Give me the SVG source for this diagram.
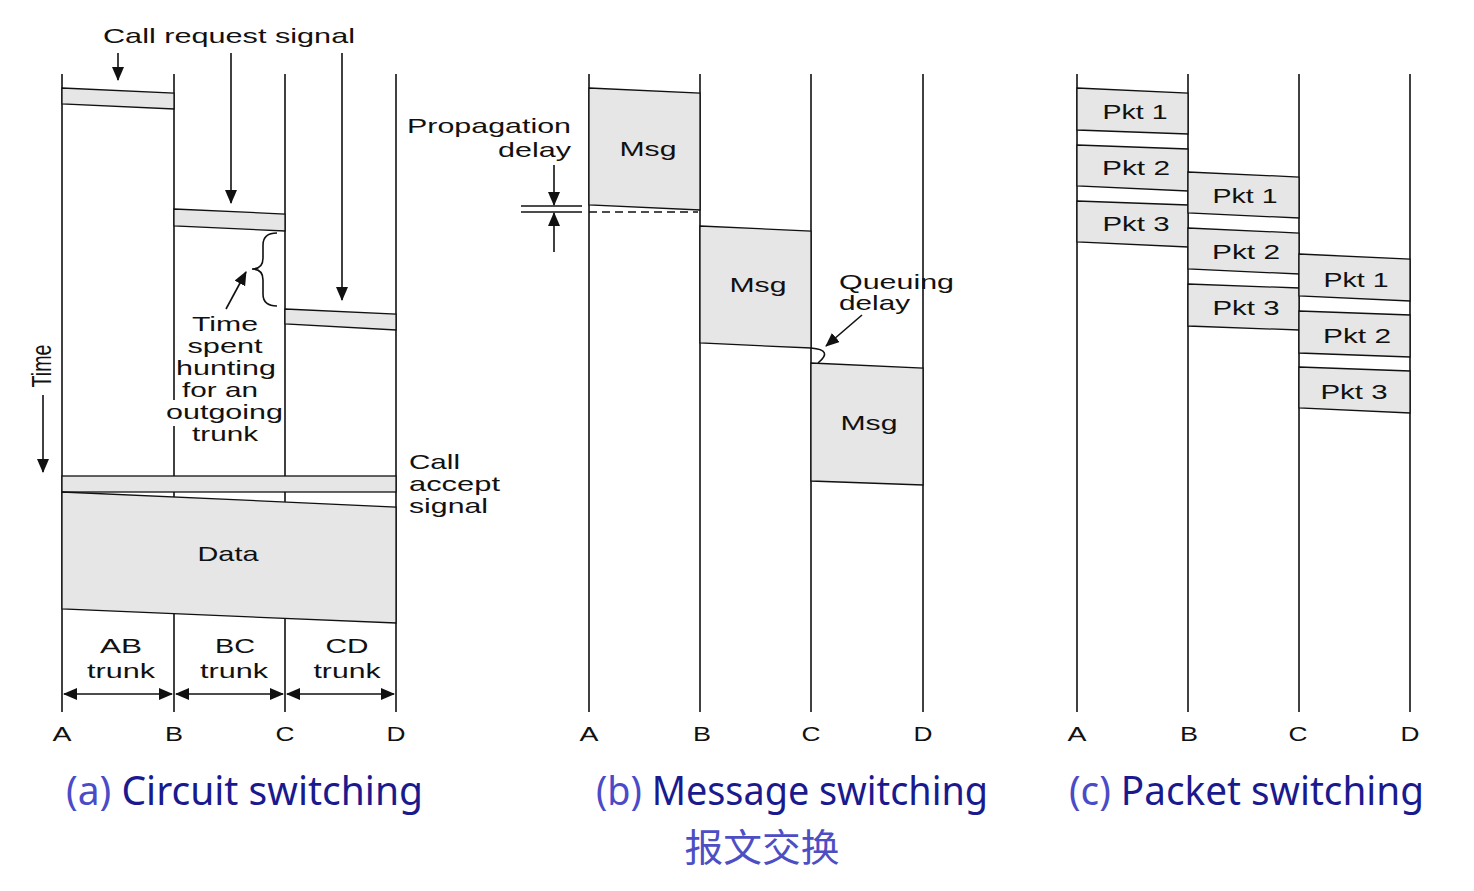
<svg xmlns="http://www.w3.org/2000/svg" width="1474" height="891" viewBox="0 0 1474 891">
<defs>
<marker id="ah" markerUnits="userSpaceOnUse" markerWidth="14" markerHeight="12" refX="13" refY="6" orient="auto-start-reverse">
<path d="M0,0 L14,6 L0,12 z" fill="#111"/>
</marker>
<style>
.ln{stroke:#111;stroke-width:1.6;fill:none}
.bx{fill:#e6e6e6;stroke:#111;stroke-width:1.3}
.t{font-family:"Liberation Sans",Arial,sans-serif;font-size:21px;fill:#111;lengthAdjust:spacingAndGlyphs}
.m{text-anchor:middle}
.ar{stroke:#111;stroke-width:1.6;fill:none;marker-end:url(#ah)}
.ti{font-family:"Noto Sans","Liberation Sans",sans-serif;font-size:40px;fill:#1a1a8e}
.pa{fill:#4b4bc8}
</style>
</defs>
<rect width="1474" height="891" fill="#fff"/>

<!-- Panel (a) circuit switching -->
<g id="panel-a">
<g id="a-lines">
<line class="ln" x1="62" y1="74" x2="62" y2="712"/>
<line class="ln" x1="174" y1="74" x2="174" y2="400"/>
<line class="ln" x1="174" y1="426" x2="174" y2="712"/>
<line class="ln" x1="285" y1="74" x2="285" y2="712"/>
<line class="ln" x1="396" y1="74" x2="396" y2="712"/>
</g>
<g id="a-req-ab"><polygon class="bx" points="62,88 174,93 174,109 62,104"/></g>
<g id="a-req-bc"><polygon class="bx" points="174,209 285,214 285,231 174,226"/></g>
<g id="a-req-cd"><polygon class="bx" points="285,309 396,314 396,330 285,324"/></g>
<g id="a-accept"><rect class="bx" x="62" y="476" width="334" height="16"/></g>
<g id="a-data"><polygon class="bx" points="62,492 396,507 396,623 62,609"/>
<text class="t m" x="228" y="561" textLength="61" lengthAdjust="spacingAndGlyphs">Data</text></g>
<g id="a-labels">
<text class="t m" x="229" y="43" textLength="252" lengthAdjust="spacingAndGlyphs">Call request signal</text>
<text class="t m" x="225" y="331" textLength="66" lengthAdjust="spacingAndGlyphs">Time</text>
<text class="t m" x="225" y="353" textLength="75" lengthAdjust="spacingAndGlyphs">spent</text>
<text class="t m" x="226" y="375" textLength="100" lengthAdjust="spacingAndGlyphs">hunting</text>
<text class="t m" x="220" y="397" textLength="76" lengthAdjust="spacingAndGlyphs">for an</text>
<text class="t m" x="224.5" y="419" textLength="117" lengthAdjust="spacingAndGlyphs">outgoing</text>
<text class="t m" x="225" y="441" textLength="66" lengthAdjust="spacingAndGlyphs">trunk</text>
<text class="t" x="409" y="469" textLength="51" lengthAdjust="spacingAndGlyphs">Call</text>
<text class="t" x="409" y="491" textLength="91" lengthAdjust="spacingAndGlyphs">accept</text>
<text class="t" x="409" y="513" textLength="79" lengthAdjust="spacingAndGlyphs">signal</text>
<text class="t m" x="121" y="653" textLength="42" lengthAdjust="spacingAndGlyphs">AB</text>
<text class="t m" x="121" y="678" textLength="68" lengthAdjust="spacingAndGlyphs">trunk</text>
<text class="t m" x="235" y="653" textLength="40" lengthAdjust="spacingAndGlyphs">BC</text>
<text class="t m" x="234" y="678" textLength="68" lengthAdjust="spacingAndGlyphs">trunk</text>
<text class="t m" x="347" y="653" textLength="43" lengthAdjust="spacingAndGlyphs">CD</text>
<text class="t m" x="347" y="678" textLength="67" lengthAdjust="spacingAndGlyphs">trunk</text>
<text class="t m" x="62" y="741" textLength="19" lengthAdjust="spacingAndGlyphs">A</text>
<text class="t m" x="174" y="741" textLength="18" lengthAdjust="spacingAndGlyphs">B</text>
<text class="t m" x="285" y="741" textLength="19" lengthAdjust="spacingAndGlyphs">C</text>
<text class="t m" x="396" y="741" textLength="19" lengthAdjust="spacingAndGlyphs">D</text>
<text class="t m" transform="translate(51,366) scale(1.3,1) rotate(-90)" x="0" y="0" textLength="43" lengthAdjust="spacingAndGlyphs">Time</text>
</g>
<path class="ln" d="M277,233 Q263,233 263,245 L263,258 Q263,269 252,269 Q263,269 263,280 L263,294 Q263,306 277,306"/>
</g>

<!-- Panel (b) message switching -->
<g id="panel-b">
<g id="b-lines">
<line class="ln" x1="589" y1="74" x2="589" y2="712"/>
<line class="ln" x1="700" y1="74" x2="700" y2="712"/>
<line class="ln" x1="811" y1="74" x2="811" y2="712"/>
<line class="ln" x1="923" y1="74" x2="923" y2="712"/>
</g>
<g id="b-msg1"><polygon class="bx" points="589,88 700,93 700,210 589,205"/>
<text class="t m" x="648" y="156" textLength="57" lengthAdjust="spacingAndGlyphs">Msg</text></g>
<g id="b-msg2"><polygon class="bx" points="700,226 811,231 811,348 700,343"/>
<text class="t m" x="758" y="292" textLength="57" lengthAdjust="spacingAndGlyphs">Msg</text></g>
<g id="b-msg3"><polygon class="bx" points="811,363 923,368 923,485 811,481"/>
<text class="t m" x="869" y="430" textLength="57" lengthAdjust="spacingAndGlyphs">Msg</text></g>
<line class="ln" x1="589" y1="212" x2="698" y2="212" stroke-dasharray="8,5" stroke-width="1.3"/>
<line class="ln" x1="521" y1="206" x2="582" y2="206" stroke-width="1.3"/>
<line class="ln" x1="521" y1="212" x2="582" y2="212" stroke-width="1.3"/>
<g id="b-labels">
<text class="t" x="571" y="133" text-anchor="end" textLength="164" lengthAdjust="spacingAndGlyphs">Propagation</text>
<text class="t" x="571" y="157" text-anchor="end" textLength="73" lengthAdjust="spacingAndGlyphs">delay</text>
<text class="t" x="839" y="289" textLength="115" lengthAdjust="spacingAndGlyphs">Queuing</text>
<text class="t" x="839" y="310" textLength="71" lengthAdjust="spacingAndGlyphs">delay</text>
<text class="t m" x="589" y="741" textLength="19" lengthAdjust="spacingAndGlyphs">A</text>
<text class="t m" x="702" y="741" textLength="18" lengthAdjust="spacingAndGlyphs">B</text>
<text class="t m" x="811" y="741" textLength="19" lengthAdjust="spacingAndGlyphs">C</text>
<text class="t m" x="923" y="741" textLength="19" lengthAdjust="spacingAndGlyphs">D</text>
</g>
<path class="ln" stroke-width="1.3" d="M811,348 Q834,350 818,363"/>
</g>

<!-- Panel (c) packet switching -->
<g id="panel-c">
<g id="c-lines">
<line class="ln" x1="1077" y1="74" x2="1077" y2="712"/>
<line class="ln" x1="1188" y1="74" x2="1188" y2="712"/>
<line class="ln" x1="1299" y1="74" x2="1299" y2="712"/>
<line class="ln" x1="1410" y1="74" x2="1410" y2="712"/>
</g>
<g id="c-ab-p1"><polygon class="bx" points="1077,88 1188,93 1188,134 1077,130"/><text class="t m" x="1135" y="119" textLength="65" lengthAdjust="spacingAndGlyphs">Pkt 1</text></g>
<g id="c-ab-p2"><polygon class="bx" points="1077,145 1188,149 1188,191 1077,186"/><text class="t m" x="1136" y="175" textLength="68" lengthAdjust="spacingAndGlyphs">Pkt 2</text></g>
<g id="c-ab-p3"><polygon class="bx" points="1077,201 1188,205 1188,247 1077,242"/><text class="t m" x="1136" y="231" textLength="67" lengthAdjust="spacingAndGlyphs">Pkt 3</text></g>
<g id="c-bc-p1"><polygon class="bx" points="1188,172 1299,177 1299,218 1188,213"/><text class="t m" x="1245" y="203" textLength="65" lengthAdjust="spacingAndGlyphs">Pkt 1</text></g>
<g id="c-bc-p2"><polygon class="bx" points="1188,228 1299,233 1299,274 1188,269"/><text class="t m" x="1246" y="259" textLength="68" lengthAdjust="spacingAndGlyphs">Pkt 2</text></g>
<g id="c-bc-p3"><polygon class="bx" points="1188,284 1299,288 1299,330 1188,326"/><text class="t m" x="1246" y="315" textLength="67" lengthAdjust="spacingAndGlyphs">Pkt 3</text></g>
<g id="c-cd-p1"><polygon class="bx" points="1299,254 1410,259 1410,301 1299,296"/><text class="t m" x="1356" y="287" textLength="65" lengthAdjust="spacingAndGlyphs">Pkt 1</text></g>
<g id="c-cd-p2"><polygon class="bx" points="1299,311 1410,315 1410,357 1299,353"/><text class="t m" x="1357" y="343" textLength="68" lengthAdjust="spacingAndGlyphs">Pkt 2</text></g>
<g id="c-cd-p3"><polygon class="bx" points="1299,367 1410,371 1410,413 1299,408"/><text class="t m" x="1354" y="399" textLength="67" lengthAdjust="spacingAndGlyphs">Pkt 3</text></g>
<g id="c-labels">
<text class="t m" x="1077" y="741" textLength="19" lengthAdjust="spacingAndGlyphs">A</text>
<text class="t m" x="1189" y="741" textLength="18" lengthAdjust="spacingAndGlyphs">B</text>
<text class="t m" x="1298" y="741" textLength="19" lengthAdjust="spacingAndGlyphs">C</text>
<text class="t m" x="1410" y="741" textLength="19" lengthAdjust="spacingAndGlyphs">D</text>
</g>
</g>

<!-- connectors / arrows -->
<g id="connectors">
<line class="ar" x1="118" y1="53" x2="118" y2="80"/>
<line class="ar" x1="231" y1="53" x2="231" y2="203"/>
<line class="ar" x1="342" y1="53" x2="342" y2="300"/>
<line class="ar" x1="226" y1="309" x2="246" y2="272"/>
<line class="ar" x1="43" y1="395" x2="43" y2="472"/>
<line class="ar" x1="64" y1="694" x2="172" y2="694" marker-start="url(#ah)"/>
<line class="ar" x1="176" y1="694" x2="283" y2="694" marker-start="url(#ah)"/>
<line class="ar" x1="287" y1="694" x2="394" y2="694" marker-start="url(#ah)"/>
<line class="ar" x1="554" y1="165" x2="554" y2="205"/>
<line class="ar" x1="554" y1="252" x2="554" y2="213"/>
<line class="ar" x1="862" y1="315" x2="826" y2="346"/>
</g>

<!-- titles -->
<g id="titles">
<text class="ti" x="66" y="805" textLength="357" lengthAdjust="spacingAndGlyphs"><tspan class="pa">(a)</tspan> Circuit switching</text>
<text class="ti" x="596" y="805" textLength="392" lengthAdjust="spacingAndGlyphs"><tspan class="pa">(b)</tspan> Message switching</text>
<text class="ti" x="1069" y="805" textLength="355" lengthAdjust="spacingAndGlyphs"><tspan class="pa">(c)</tspan> Packet switching</text>
<text x="762" y="861" text-anchor="middle" font-family="'Noto Sans CJK SC',sans-serif" font-size="38" fill="#4e4ec4" textLength="155" lengthAdjust="spacingAndGlyphs">报文交换</text>
</g>
</svg>
